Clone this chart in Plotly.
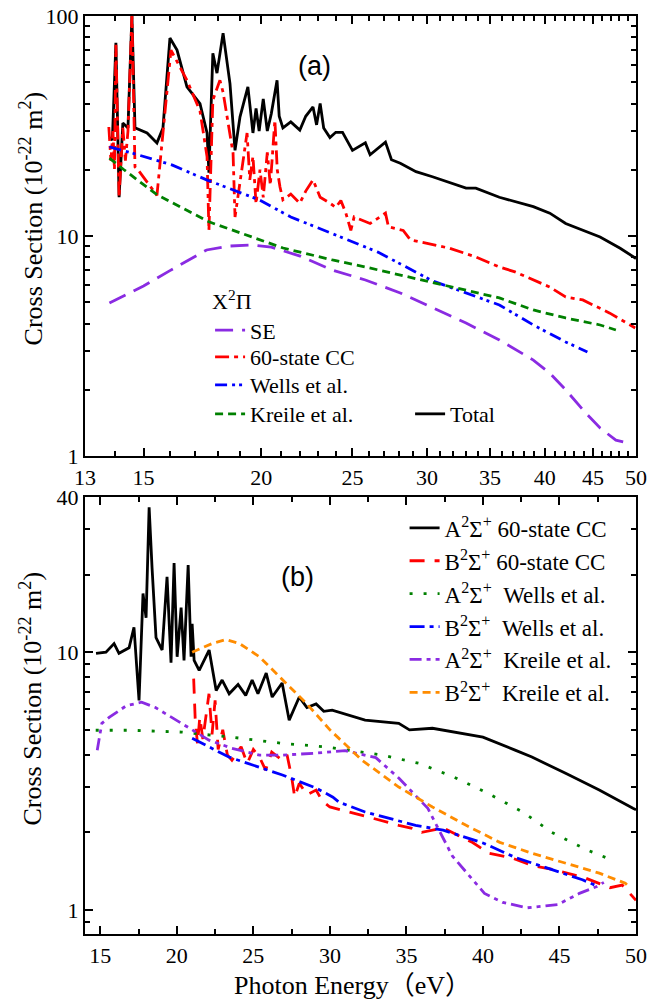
import numpy as np
import plotly.graph_objects as go

# ---------------- Panel (a): X2Pi ----------------
se_E = [13.8, 15.0, 16.0, 17.5, 18.5, 19.5, 20.5, 22.0, 23.8, 25.8, 28.1, 30.4, 33.0, 35.8, 38.9, 40.5, 42.1, 44.2, 45.8, 47.6, 48.8]
se_V = [4.96, 5.93, 6.96, 8.64, 9.0, 9.1, 8.9, 8.1, 7.0, 6.31, 5.51, 4.71, 4.02, 3.37, 2.73, 2.38, 2.0, 1.57, 1.34, 1.18, 1.15]

cc_E = [13.78, 13.85, 13.92, 13.97, 14.02, 14.13, 14.26, 14.35, 14.44, 14.58, 14.69, 14.8, 15.5, 16.04, 16.68,
        17.22, 17.52, 17.6, 17.77, 18.08, 18.22, 18.67, 18.76, 19.32, 19.45, 19.6, 19.75, 19.94, 20.1, 20.3,
        20.45, 20.68, 20.8, 20.94, 21.09, 21.5, 21.98, 22.3, 22.7, 23.1, 23.66, 24.0, 24.3, 24.6, 24.9, 25.1,
        26.1, 27.1, 27.3, 28.3, 28.8, 30.4, 31.7, 33.8, 35.8, 37.2, 40.5, 42.1, 43.9, 46.9, 49.9]
cc_V = [31.3, 22.0, 30.0, 20.0, 74.0, 15.0, 31.0, 22.0, 30.0, 100.0, 20.6, 20.0, 15.3, 70.0, 51.0,
        37.0, 22.9, 10.6, 41.5, 51.0, 45.0, 23.8, 12.2, 29.4, 18.0, 23.0, 14.0, 20.0, 15.0, 24.0,
        17.0, 33.7, 20.0, 16.7, 14.6, 15.5, 14.1, 16.0, 18.0, 15.0, 14.1, 13.5, 14.5, 12.7, 10.6, 12.2,
        11.4, 12.7, 11.0, 10.6, 9.6, 9.1, 8.8, 8.03, 7.23, 6.87, 5.86, 5.28, 5.12, 4.46, 3.82]

wells_a_E = [13.8, 14.6, 16.1, 17.5, 19.9, 21.5, 23.6, 26.6, 30.4, 35.8, 38.9, 42.1, 44.4]
wells_a_V = [25.4, 23.8, 21.0, 18.0, 14.6, 12.2, 10.4, 8.45, 6.25, 4.86, 3.94, 3.3, 2.97]

kreile_a_E = [13.8, 14.3, 15.5, 17.6, 21.1, 23.8, 25.8, 28.1, 30.4, 33.0, 35.8, 38.9, 42.1, 45.8, 47.6]
kreile_a_V = [22.6, 20.0, 15.4, 11.6, 8.82, 7.78, 7.23, 6.65, 6.18, 5.68, 5.23, 4.61, 4.24, 3.94, 3.74]

total_E = [13.8, 13.9, 14.02, 14.13, 14.26, 14.44, 14.58, 14.69, 15.13, 15.5, 15.73, 16.0, 16.28, 16.68,
           17.22, 17.52, 17.6, 17.77, 17.95, 18.22, 18.53, 18.76, 18.99, 19.36, 19.6, 19.75, 19.9, 20.1,
           20.3, 20.5, 20.79, 20.9, 21.09, 21.5, 21.98, 22.3, 22.7, 22.9, 23.1, 23.3, 23.66, 24.0, 24.4,
           25.0, 25.8, 26.1, 27.1, 27.5, 28.1, 29.2, 30.4, 33.0, 33.8, 35.8, 38.9, 40.5, 42.1, 45.8, 48.1, 50.0]
total_V = [28.0, 27.3, 75.6, 15.0, 32.6, 31.0, 100.0, 31.0, 29.4, 26.5, 31.0, 79.4, 70.0, 47.6,
           40.0, 29.4, 19.4, 67.6, 55.0, 83.6, 49.3, 24.5, 34.8, 47.6, 29.4, 38.0, 30.0, 42.0,
           30.0, 36.0, 51.0, 35.0, 31.0, 33.0, 30.3, 35.0, 38.6, 32.0, 40.0, 31.0, 28.0, 29.6, 29.6,
           24.5, 26.5, 23.4, 26.7, 22.2, 21.4, 19.6, 18.6, 16.5, 16.5, 15.0, 13.6, 12.7, 11.4, 9.9, 8.8, 7.9]

# ---------------- Panel (b) ----------------
a_cc_E = [14.72, 15.37, 15.9, 16.22, 16.88, 17.2, 17.53, 17.79, 17.99, 18.19, 18.38, 18.64, 19.04, 19.36,
          19.62, 19.82, 20.02, 20.28, 20.47, 20.74, 20.93, 21.0, 21.13, 21.46, 22.11, 22.57, 22.96, 23.42,
          24.0, 24.5, 24.92, 25.3, 25.84, 26.23, 26.88, 27.34, 28.0, 28.5, 29.1, 29.6, 30.15, 32.3, 34.5,
          35.2, 36.7, 40.0, 42.1, 43.2, 45.4, 47.6, 49.8, 50.0]
a_cc_V = [9.9, 10.0, 10.8, 9.9, 10.4, 12.5, 6.5, 16.9, 13.6, 36.5, 21.3, 11.4, 10.2, 19.6,
          9.1, 22.2, 9.6, 14.9, 9.3, 21.8, 9.6, 12.9, 9.3, 8.5, 10.2, 7.1, 7.8, 6.9,
          7.5, 6.8, 7.8, 6.9, 8.3, 6.7, 7.6, 5.45, 6.7, 6.1, 6.3, 5.9, 5.96, 5.45, 5.3,
          5.0, 5.07, 4.68, 4.17, 3.92, 3.39, 2.92, 2.48, 2.45]

b_cc_E = [21.1, 21.2, 21.35, 21.5, 21.7, 22.1, 22.3, 22.5, 22.7, 23.0, 23.3, 23.6, 24.2, 24.6, 25.0, 25.4,
          25.8, 26.2, 26.9, 27.2, 27.5, 27.7, 28.0, 28.5, 29.1, 29.5, 30.0, 31.3, 32.8, 34.5, 35.3, 36.0,
          37.4, 39.3, 40.4, 41.9, 43.2, 44.7, 46.7, 48.3, 49.1, 50.0]
b_cc_V = [7.9, 5.5, 4.4, 5.6, 4.6, 6.9, 4.8, 6.5, 4.2, 5.0, 4.0, 3.81, 4.3, 3.7, 4.2, 3.92,
          3.49, 4.1, 3.81, 4.0, 3.28, 2.74, 3.1, 2.8, 2.92, 2.65, 2.51, 2.4, 2.27, 2.13, 2.08, 2.0,
          2.08, 1.83, 1.66, 1.59, 1.49, 1.43, 1.33, 1.22, 1.25, 1.09]

a_wells_E = [14.7, 17.0, 20.3, 23.6, 26.9, 29.8, 33.4, 35.8, 38.1, 40.3, 42.6, 44.5, 46.8, 48.0]
a_wells_V = [4.98, 4.98, 4.9, 4.68, 4.43, 4.29, 3.99, 3.71, 3.28, 2.84, 2.4, 2.0, 1.71, 1.6]

b_wells_E = [21.0, 23.4, 26.9, 29.1, 30.2, 30.6, 32.3, 35.6, 37.4, 40.0, 42.1, 44.3, 46.5, 47.3]
b_wells_V = [4.64, 3.92, 3.34, 2.97, 2.74, 2.62, 2.4, 2.13, 2.04, 1.82, 1.6, 1.45, 1.31, 1.25]

a_kreile_E = [14.8, 15.1, 15.6, 16.7, 17.7, 18.6, 20.3, 22.1, 23.6, 25.4, 26.9, 29.1, 31.0, 33.0, 34.5,
              36.4, 38.0, 40.1, 41.3, 42.9, 44.9, 46.3, 47.4, 47.9]
a_kreile_V = [4.17, 5.3, 5.6, 6.2, 6.4, 6.1, 5.3, 4.56, 4.24, 3.99, 3.99, 4.06, 4.15, 3.9, 3.25,
              2.48, 1.62, 1.16, 1.07, 1.02, 1.05, 1.16, 1.23, 1.28]

b_kreile_E = [21.0, 22.3, 23.2, 24.1, 25.4, 26.9, 28.5, 30.0, 32.1, 34.5, 36.7, 38.9, 41.1, 43.2, 45.4, 47.6, 49.3, 49.6]
b_kreile_V = [10.0, 10.8, 11.2, 10.8, 9.6, 7.8, 6.3, 5.0, 3.81, 3.0, 2.51, 2.13, 1.83, 1.66, 1.52, 1.39, 1.27, 1.22]

# ticks
xa_ticks = [13, 15, 20, 25, 30, 35, 40, 45, 50]
xa_minor = [v for v in range(14, 50) if v not in xa_ticks]
ya_ticks = [1, 10, 100]
y_minor_a = [2, 3, 4, 5, 6, 7, 8, 9, 20, 30, 40, 50, 60, 70, 80, 90]
xb_ticks = [15, 20, 25, 30, 35, 40, 45, 50]
xb_minor = [17.5, 22.5, 27.5, 32.5, 37.5, 42.5, 47.5]
yb_ticks = [1, 10, 40]
y_minor_b = [0.9, 2, 3, 4, 5, 6, 7, 8, 9, 20, 30]

SERIF = "Liberation Serif, Times New Roman, serif"
SANS = "Liberation Sans, Arial, sans-serif"
PURPLE = "#8A2BE2"
RED = "#FF0000"
BLUE = "#0000FF"
GREEN = "#008000"
ORANGE = "#FF8C00"
LW = 2.8

fig = go.Figure()

def add(x, y, name, color, dash, xa, ya, legend):
    fig.add_trace(go.Scatter(x=x, y=y, name=name, mode="lines",
                             line=dict(color=color, dash=dash, width=LW),
                             xaxis=xa, yaxis=ya, legend=legend, hoverinfo="x+y+name"))

# Total drawn first so the 60-state CC resonances sit on top of it
add(total_E, total_V, "Total", "black", "solid", "x", "y", "legend2")
add(se_E, se_V, "SE", PURPLE, "18px,9px", "x", "y", "legend")
add(cc_E, cc_V, "60-state CC", RED, "14px,5px,4px,5px", "x", "y", "legend4")
add(wells_a_E, wells_a_V, "Wells et al.", BLUE, "12px,5px,3px,4px,3px,5px", "x", "y", "legend5")
add(kreile_a_E, kreile_a_V, "Kreile et al.", GREEN, "8px,5px", "x", "y", "legend6")

add(a_cc_E, a_cc_V, "A<sup>2</sup>Σ<sup>+</sup> 60-state CC", "black", "solid", "x2", "y2", "legend3")
add(b_cc_E, b_cc_V, "B<sup>2</sup>Σ<sup>+</sup> 60-state CC", RED, "15px,10px", "x2", "y2", "legend3")
add(a_wells_E, a_wells_V, "A<sup>2</sup>Σ<sup>+</sup>  Wells et al.", GREEN, "3px,11px", "x2", "y2", "legend3")
add(b_wells_E, b_wells_V, "B<sup>2</sup>Σ<sup>+</sup>  Wells et al.", BLUE, "15px,5px,4px,5px", "x2", "y2", "legend3")
add(a_kreile_E, a_kreile_V, "A<sup>2</sup>Σ<sup>+</sup>  Kreile et al.", PURPLE, "12px,5px,4px,5px,4px,5px", "x2", "y2", "legend3")
add(b_kreile_E, b_kreile_V, "B<sup>2</sup>Σ<sup>+</sup>  Kreile et al.", ORANGE, "8px,5px", "x2", "y2", "legend3")

axis_common = dict(showline=True, linecolor="black", linewidth=2, mirror="ticks",
                   ticks="inside", ticklen=8, tickwidth=2, tickcolor="black",
                   showgrid=False, zeroline=False, automargin=False,
                   tickfont=dict(family=SERIF, size=22, color="black"))

def minor(vals):
    return dict(tickmode="array", tickvals=vals, ticks="inside", ticklen=5,
                tickwidth=2, tickcolor="black", showgrid=False)

LEG_FONT = dict(family=SERIF, size=22, color="black")

def single_legend(x, y):
    return dict(x=x, y=y, xanchor="left", yanchor="middle", bgcolor="rgba(0,0,0,0)",
                font=LEG_FONT)

fig.update_layout(
    width=666, height=1001,
    margin=dict(l=85, r=30, t=16, b=67, autoexpand=False),
    paper_bgcolor="white", plot_bgcolor="white",
    xaxis=dict(type="log", range=[np.log10(13), np.log10(50)], domain=[0, 1], anchor="y",
               tickmode="array", tickvals=xa_ticks, ticktext=[str(v) for v in xa_ticks],
               minor=minor(xa_minor), ticklabelstandoff=1, **axis_common),
    yaxis=dict(type="log", range=[0, 2], domain=[0.5207, 1], anchor="x",
               tickmode="array", tickvals=ya_ticks, ticktext=[str(v) for v in ya_ticks],
               minor=minor(y_minor_a), ticklabelstandoff=0, **axis_common),
    xaxis2=dict(type="linear", range=[14, 50], domain=[0, 1], anchor="y2",
                tickmode="array", tickvals=xb_ticks, ticktext=[str(v) for v in xb_ticks],
                minor=minor(xb_minor), ticklabelstandoff=1, **axis_common),
    yaxis2=dict(type="log", range=[np.log10(0.807), np.log10(40)], domain=[0, 0.476], anchor="x2",
                tickmode="array", tickvals=yb_ticks, ticktext=[str(v) for v in yb_ticks],
                minor=minor(y_minor_b), ticklabelstandoff=0, **axis_common),
    legend=dict(x=0.227, y=0.673, xanchor="left", yanchor="middle", bgcolor="rgba(0,0,0,0)",
                font=LEG_FONT,
                title=dict(text="X<sup>2</sup>Π", font=dict(family=SERIF, size=22, color="black"))),
    legend4=single_legend(0.227, 0.6285),
    legend5=single_legend(0.227, 0.598),
    legend6=single_legend(0.227, 0.5664),
    legend2=single_legend(0.59, 0.5664),
    legend3=dict(x=0.58, y=0.4658, xanchor="left", yanchor="top", bgcolor="rgba(0,0,0,0)",
                 font=dict(family=SERIF, size=23, color="black"), tracegroupgap=0),
    showlegend=True,
)

title_font = dict(family=SERIF, size=26, color="black")
fig.add_annotation(text="Cross Section (10<sup>-22</sup> m<sup>2</sup>)", xref="paper", yref="paper",
                   x=-0.097, y=0.779, textangle=-90, showarrow=False, font=title_font,
                   xanchor="center", yanchor="middle")
fig.add_annotation(text="Cross Section (10<sup>-22</sup> m<sup>2</sup>)", xref="paper", yref="paper",
                   x=-0.097, y=0.256, textangle=-90, showarrow=False, font=title_font,
                   xanchor="center", yanchor="middle")
fig.add_annotation(text="Photon Energy（eV）", xref="paper", yref="paper",
                   x=0.486, y=-0.0566, showarrow=False,
                   font=dict(family="Liberation Serif, Noto Sans CJK SC, serif", size=26, color="black"),
                   xanchor="center", yanchor="middle")
fig.add_annotation(text="(a)", xref="paper", yref="paper", x=0.417, y=0.9455, showarrow=False,
                   font=dict(family=SANS, size=27, color="black"), xanchor="center", yanchor="middle")
fig.add_annotation(text="(b)", xref="paper", yref="paper", x=0.385, y=0.389, showarrow=False,
                   font=dict(family=SANS, size=27, color="black"), xanchor="center", yanchor="middle")

# remove the default 8px page margin so the figure fills the window exactly
fig.write_html("out.html", config={"displayModeBar": False},
               post_script="document.body.style.margin='0';")
